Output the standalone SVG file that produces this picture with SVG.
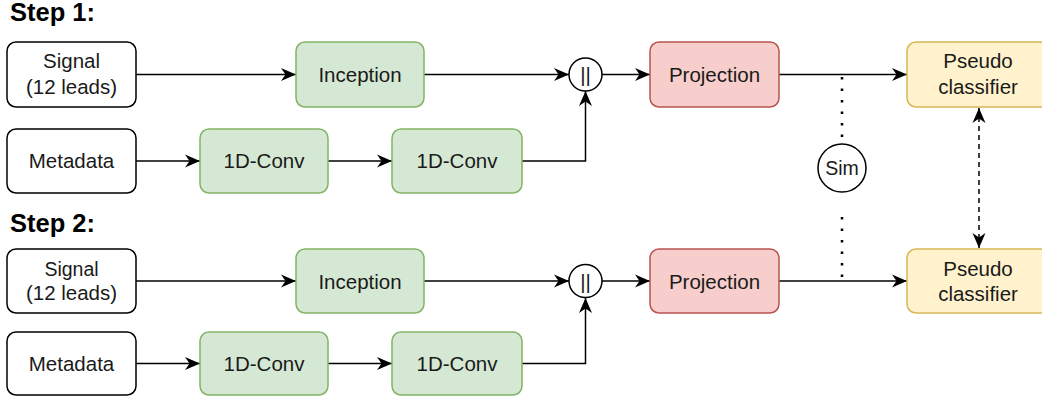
<svg xmlns="http://www.w3.org/2000/svg" width="1042" height="401" viewBox="0 0 1042 401">
<defs>
<style>
text{font-family:"Liberation Sans",Arial,sans-serif;fill:#1a1a1a;text-anchor:middle}
.t{font-size:20.5px}
.s{font-size:19.5px}
.h{font-size:25.5px;font-weight:bold;text-anchor:start;fill:#000}
.w{fill:#fff;stroke:#000;stroke-width:1.5}
.g{fill:#d5e8d4;stroke:#82b366;stroke-width:1.5}
.r{fill:#f8cecc;stroke:#b85450;stroke-width:1.5}
.y{fill:#fff2cc;stroke:#d6b656;stroke-width:1.5}
.c{fill:none;stroke:#000;stroke-width:1.5}
.dot{fill:none;stroke:#000;stroke-width:2.5;stroke-dasharray:2.5 9}
.dash{fill:none;stroke:#000;stroke-width:1.5;stroke-dasharray:5 4}
</style>
<marker id="a" markerUnits="userSpaceOnUse" markerWidth="18" markerHeight="16" refX="15" refY="0" viewBox="-1 -8 18 16" orient="auto">
<path d="M0,-6.5 L15,0 L0,6.5 L4.5,0 Z" fill="#000"/>
</marker>
<marker id="as" markerUnits="userSpaceOnUse" markerWidth="18" markerHeight="16" refX="15" refY="0" viewBox="-1 -8 18 16" orient="auto-start-reverse">
<path d="M0,-6.5 L15,0 L0,6.5 L4.5,0 Z" fill="#000"/>
</marker>
</defs>
<rect width="1042" height="401" fill="#fff"/>
<text class="h" x="10" y="21">Step 1:</text>
<text class="h" x="10" y="232">Step 2:</text>
<g id="connectors">
<path class="c" d="M136,74.5 H296" marker-end="url(#a)"/>
<path class="c" d="M136,161 H200" marker-end="url(#a)"/>
<path class="c" d="M328,161 H392" marker-end="url(#a)"/>
<path class="c" d="M522,161 H585.5 V91" marker-end="url(#a)"/>
<path class="c" d="M424,74.5 H569" marker-end="url(#a)"/>
<path class="c" d="M602,74.5 H650" marker-end="url(#a)"/>
<path class="c" d="M779,74.5 H907" marker-end="url(#a)"/>
<path class="dot" d="M842,77 V144"/>
<path class="c" d="M136,281 H296" marker-end="url(#a)"/>
<path class="c" d="M136,363.5 H200" marker-end="url(#a)"/>
<path class="c" d="M328,363.5 H392" marker-end="url(#a)"/>
<path class="c" d="M522,363.5 H585.5 V298" marker-end="url(#a)"/>
<path class="c" d="M424,281 H569" marker-end="url(#a)"/>
<path class="c" d="M602,281 H650" marker-end="url(#a)"/>
<path class="c" d="M779,281 H907" marker-end="url(#a)"/>
<path class="dot" d="M842,217 V283"/>
<path class="dash" d="M979,108 V248" marker-start="url(#as)" marker-end="url(#a)"/>
</g>
<g id="signal1"><rect class="w" x="7" y="42" width="129" height="65" rx="9"/><text class="t" x="71.5" y="68">Signal</text><text class="t" x="71.5" y="94">(12 leads)</text></g>
<g id="metadata1"><rect class="w" x="7" y="129" width="129" height="64" rx="9"/><text class="t" x="71.5" y="168">Metadata</text></g>
<g id="inception1"><rect class="g" x="296" y="42" width="128" height="65" rx="9"/><text class="t" x="360" y="82">Inception</text></g>
<g id="conv1a"><rect class="g" x="200" y="129" width="128" height="64" rx="9"/><text class="t" x="264" y="168">1D-Conv</text></g>
<g id="conv1b"><rect class="g" x="392" y="129" width="130" height="64" rx="9"/><text class="t" x="457" y="168">1D-Conv</text></g>
<g id="concat1"><circle class="w" cx="585.5" cy="74.5" r="16.5"/><text class="t" x="585.5" y="82">||</text></g>
<g id="projection1"><rect class="r" x="650" y="42" width="129" height="65" rx="9"/><text class="t" x="714.5" y="82">Projection</text></g>
<g id="pseudo1"><rect class="y" x="907" y="42" width="142" height="65" rx="9"/><text class="t" x="978" y="68">Pseudo</text><text class="t" x="978" y="94">classifier</text></g>
<g id="sim"><circle class="w" cx="842" cy="168" r="24"/><text class="s" x="842" y="175">Sim</text></g>
<g id="signal2"><rect class="w" x="7" y="249" width="129" height="64" rx="9"/><text class="s" x="71.5" y="276">Signal</text><text class="t" x="71.5" y="300">(12 leads)</text></g>
<g id="metadata2"><rect class="w" x="7" y="332" width="129" height="63" rx="9"/><text class="t" x="71.5" y="371">Metadata</text></g>
<g id="inception2"><rect class="g" x="296" y="249" width="128" height="64" rx="9"/><text class="t" x="360" y="288.5">Inception</text></g>
<g id="conv2a"><rect class="g" x="200" y="332" width="128" height="63" rx="9"/><text class="t" x="264" y="371">1D-Conv</text></g>
<g id="conv2b"><rect class="g" x="392" y="332" width="130" height="63" rx="9"/><text class="t" x="457" y="371">1D-Conv</text></g>
<g id="concat2"><circle class="w" cx="585.5" cy="281" r="16.5"/><text class="t" x="585.5" y="288.5">||</text></g>
<g id="projection2"><rect class="r" x="650" y="249" width="129" height="64" rx="9"/><text class="t" x="714.5" y="288.5">Projection</text></g>
<g id="pseudo2"><rect class="y" x="907" y="249" width="142" height="64" rx="9"/><text class="t" x="978" y="276">Pseudo</text><text class="t" x="978" y="301">classifier</text></g>
</svg>
